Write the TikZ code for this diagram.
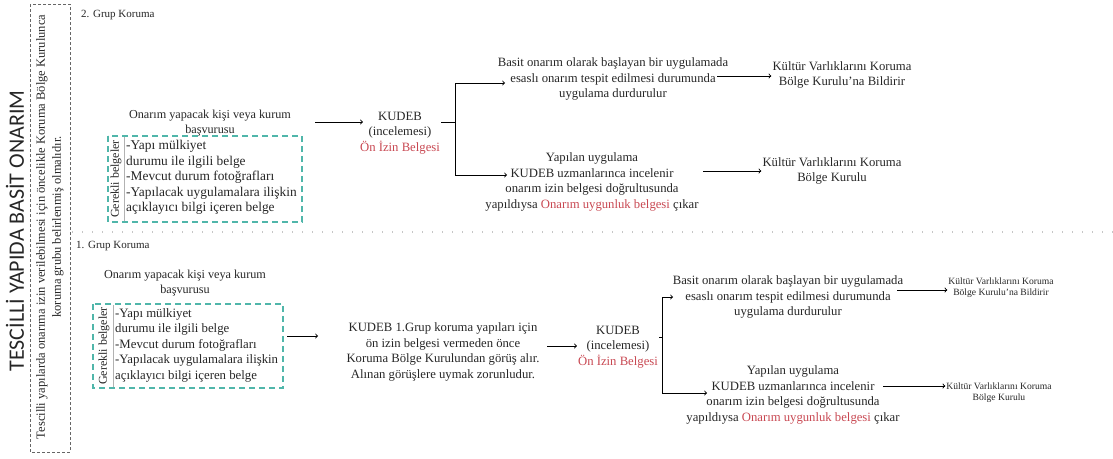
\documentclass[tikz,border=0pt]{standalone}
\usepackage{fontspec}
\setmainfont{Liberation Serif}
\newfontfamily\titlefont{Carlito}
\usetikzlibrary{positioning}
\usetikzlibrary{arrows}
\usetikzlibrary{calc}

\definecolor{onred}{RGB}{200,72,82}
\definecolor{tealbox}{RGB}{80,182,170}

\tikzset{
  txt/.style={align=center, inner sep=1pt, text=black!85, font=\rmfamily\fontsize{12.7}{15.4}\selectfont},
  smalltxt/.style={align=center, inner sep=1pt, text=black!85, font=\rmfamily\fontsize{9.6}{10.8}\selectfont},
  listtxt/.style={align=left, inner sep=0pt, anchor=north west, text=black!85, font=\rmfamily\fontsize{12.8}{15.5}\selectfont},
  grouptxt/.style={anchor=west, inner sep=0pt, text=black!85, font=\rmfamily\fontsize{11}{13}\selectfont},
  arr/.style={->, line width=0.9pt},
  ln/.style={line width=0.9pt},
  belgebox/.style={draw=tealbox, dash pattern=on 6pt off 4pt, line width=1.3pt},
}

\begin{document}
\begin{tikzpicture}[x=1pt,y=-1pt]
                \useasboundingbox (0,0) rectangle (1113,458);

                % Left frame and titles
                \draw[gray!80!black, dash pattern=on 3pt off 2pt, line width=0.9pt] (30,4) rectangle (70,452);
                \node[rotate=90, text=black!85, font=\titlefont\fontsize{22}{24}\selectfont] (title) at (15,231) {TESCİLLİ YAPIDA BASİT ONARIM};
                \node[rotate=90, txt, font=\rmfamily\fontsize{12.5}{16}\selectfont] (note) at (50,227)
                    {Tescilli yapılarda onarıma izin verilebilmesi için öncelikle Koruma Bölge Kurulunca\\ koruma grubu belirlenmiş olmalıdır.};

                % Separator between the two groups
                \draw[gray!45, line width=1.3pt, dash pattern=on 1.3pt off 8.7pt] (72,232) -- (1113,232);

                % 2. Grup Koruma
                \node[grouptxt] (grup2) at (81,15) {2. Grup Koruma};
                \node[txt, font=\rmfamily\fontsize{12.2}{15.4}\selectfont] (basvuru2) at (210,123) {Onarım yapacak kişi veya kurum\\ başvurusu};
                \draw[belgebox] (108,136) rectangle (302,222);
                \draw[gray!60] (124,137) -- (124,221);
                \node[rotate=90, txt, font=\rmfamily\fontsize{12}{14}\selectfont] (gerekli2) at (116,179) {Gerekli belgeler};
                \node[listtxt, font=\rmfamily\fontsize{13.4}{15.5}\selectfont] (liste2) at (126,140) {-Yapı mülkiyet\\ durumu ile ilgili belge\\ -Mevcut durum fotoğrafları\\ -Yapılacak uygulamalara ilişkin\\ açıklayıcı bilgi içeren belge};
                \node[txt] (kudeb2) at (400,133) {KUDEB\\ (incelemesi)\\ \textcolor{onred}{Ön İzin Belgesi}};
                \node[txt] (basit2) at (613,79) {Basit onarım olarak başlayan bir uygulamada\\ esaslı onarım tespit edilmesi durumunda\\ uygulama durdurulur};
                \node[txt] (yapilan2) at (592,182) {Yapılan uygulama\\ KUDEB uzmanlarınca incelenir\\ onarım izin belgesi doğrultusunda\\ yapıldıysa \textcolor{onred}{Onarım uygunluk belgesi} çıkar};
                \node[txt] (kvk2a) at (842,75) {Kültür Varlıklarını Koruma\\ Bölge Kurulu’na Bildirir};
                \node[txt] (kvk2b) at (832,171) {Kültür Varlıklarını Koruma\\ Bölge Kurulu};

                \coordinate (s2a) at (315,122);
                \coordinate (split2) at (455,122);
                \coordinate (b2in) at (505,83);
                \coordinate (y2in) at (507,175);
                \coordinate (b2out) at (717,76);
                \coordinate (y2out) at (703,171);

                \draw[arr] (s2a) -- ([xshift=4pt]kudeb2.west |- s2a);
                \draw[ln] (kudeb2.east |- split2) -- (split2);
                \draw[arr] (split2) |- (b2in);
                \draw[arr] (split2) |- (y2in);
                \draw[arr] (b2out) -- (kvk2a.west |- b2out);
                \draw[arr] (y2out) -- (kvk2b.west |- y2out);

                % 1. Grup Koruma
                \node[grouptxt] (grup1) at (76,246) {1. Grup Koruma};
                \node[txt, font=\rmfamily\fontsize{12.2}{15.4}\selectfont] (basvuru1) at (185,283) {Onarım yapacak kişi veya kurum\\ başvurusu};
                \draw[belgebox] (93,304) rectangle (283,388);
                \draw[gray!60] (113,305) -- (113,387);
                \node[rotate=90, txt, font=\rmfamily\fontsize{12}{14}\selectfont] (gerekli1) at (104,346) {Gerekli belgeler};
                \node[listtxt] (liste1) at (115,308) {-Yapı mülkiyet\\ durumu ile ilgili belge\\ -Mevcut durum fotoğrafları\\ -Yapılacak uygulamalara ilişkin\\ açıklayıcı bilgi içeren belge};
                \node[txt] (kurul1) at (443,352) {KUDEB 1.Grup koruma yapıları için\\ ön izin belgesi vermeden önce\\ Koruma Bölge Kurulundan görüş alır.\\ Alınan görüşlere uymak zorunludur.};
                \node[txt] (kudeb1) at (618,347) {KUDEB\\ (incelemesi)\\ \textcolor{onred}{Ön İzin Belgesi}};
                \node[txt] (basit1) at (788,297) {Basit onarım olarak başlayan bir uygulamada\\ esaslı onarım tespit edilmesi durumunda\\ uygulama durdurulur};
                \node[txt] (yapilan1) at (793,395) {Yapılan uygulama\\ KUDEB uzmanlarınca incelenir\\ onarım izin belgesi doğrultusunda\\ yapıldıysa \textcolor{onred}{Onarım uygunluk belgesi} çıkar};
                \node[smalltxt] (kvk1a) at (1001,288) {Kültür Varlıklarını Koruma\\ Bölge Kurulu’na Bildirir};
                \node[smalltxt] (kvk1b) at (999,393) {Kültür Varlıklarını Koruma\\ Bölge Kurulu};

                \coordinate (s1a) at (287,336);
                \coordinate (e1a) at (318,336);
                \coordinate (s1b) at (547,346);
                \coordinate (split1) at (662,337);
                \coordinate (b1in) at (673,297);
                \coordinate (y1in) at (707,393);
                \coordinate (b1out) at (897,290);
                \coordinate (y1out) at (883,386);

                \draw[arr] (s1a) -- (e1a);
                \draw[arr] (s1b) -- (kudeb1.west |- s1b);
                \draw[ln] (kudeb1.east |- split1) -- (split1);
                \draw[arr] (split1) |- (b1in);
                \draw[arr] (split1) |- (y1in);
                \foreach \from/\to in {b1out/kvk1a, y1out/kvk1b}
                    \draw[arr] (\from) -- (\to.west |- \from);

            \end{tikzpicture}
\end{document}
